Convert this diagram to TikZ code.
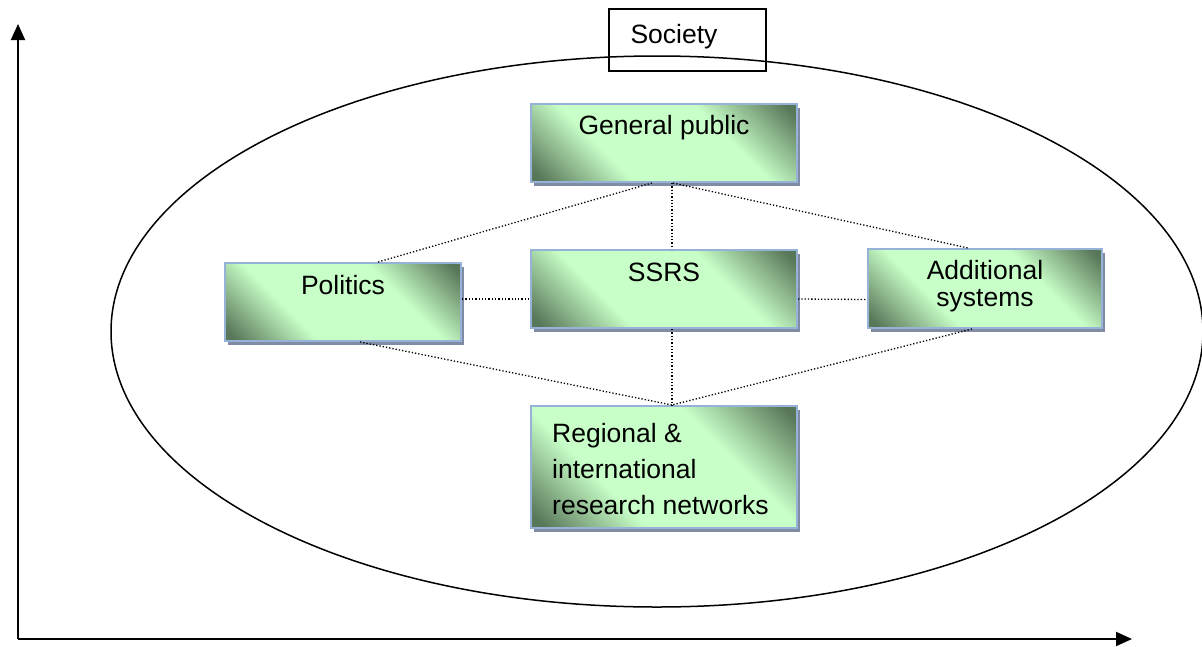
\documentclass[tikz,border=0pt]{standalone}
\usepackage{fontspec}
\setmainfont{Liberation Sans}
\usepackage{tikz}
\usetikzlibrary{arrows.meta}
\usetikzlibrary{shadows}

\definecolor{dkgreen}{RGB}{88,118,88}
\definecolor{ltgreen}{RGB}{200,255,200}
\definecolor{boxline}{RGB}{150,178,215}
\definecolor{shadowblue}{RGB}{128,140,165}

% light band across the box, dark in two corners
\pgfdeclareverticalshading{greenband}{100bp}{color(0bp)=(dkgreen); color(17bp)=(dkgreen);
  color(36bp)=(ltgreen); color(64bp)=(ltgreen); color(83bp)=(dkgreen); color(100bp)=(dkgreen)}

\tikzset{
  box/.style={draw=boxline, line width=2pt, shading=greenband, shading angle=-45, inner sep=0,
    drop shadow={shadow xshift=3pt, shadow yshift=-4pt, fill=shadowblue, opacity=1}},
  lbl/.style={inner sep=0, font=\fontsize{26.5}{27}\selectfont},
  link/.style={black, line width=1.3pt, dotted},
  axis/.style={black, line width=2pt, -{Triangle[length=16pt,width=14pt]}}
}

\begin{document}
\begin{tikzpicture}[x=1pt, y=-1pt]
\useasboundingbox (0,0) rectangle (1202,646);

% axes
\coordinate (o) at (18,639);
\coordinate (ytip) at (18,24);
\coordinate (xtip) at (1132,639);
\draw[axis] (o) -- (ytip);
\draw[axis] (o) -- (xtip);

% society
\draw[line width=1.5pt] (657,331.5) ellipse (546pt and 275.5pt);
\node[draw, line width=1.5pt, minimum width=157pt, minimum height=62pt] (soc) at (687.5,40) {};
\node[lbl] (soclbl) at (674,37) {Society};

% boxes
\node[box, minimum width=266pt, minimum height=78pt] (gp) at (664,143) {};
\node[box, minimum width=236pt, minimum height=78pt] (pol) at (343,302) {};
\node[box, minimum width=266pt, minimum height=78pt] (ssrs) at (664,289) {};
\node[box, minimum width=234pt, minimum height=79pt] (add) at (985,288.5) {};
\node[box, minimum width=266pt, minimum height=122pt] (reg) at (664,467) {};

\node[lbl] (gplbl) at (664,128) {General public};
\node[lbl] (pollbl) at (343,285) {Politics};
\node[lbl] (ssrslbl) at (664,272) {SSRS};
\node[lbl, align=center] (addlbl) at (985,286.5) {Additional\\systems};
\node[lbl, align=left, anchor=west, font=\fontsize{26.5}{36}\selectfont] (reglbl) at (552,469) {Regional \&\\international\\research networks};

% links
\draw[link] ([xshift=-12pt]gp.south) -- ([xshift=35pt]pol.north);
\draw[link] ([xshift=8pt]gp.south) -- ([xshift=8pt]ssrs.north);
\draw[link] ([xshift=9pt]gp.south) -- ([xshift=-17pt]add.north);
\draw[link] ([yshift=3pt]pol.east) -- ([yshift=-10pt]ssrs.west);
\draw[link] ([yshift=-10pt]ssrs.east) -- ([yshift=-11pt]add.west);
\draw[link] ([xshift=17pt]pol.south) -- ([xshift=8pt]reg.north);
\draw[link] ([xshift=8pt]ssrs.south) -- ([xshift=8pt]reg.north);
\draw[link] ([xshift=-13pt]add.south) -- ([xshift=8pt]reg.north);
\end{tikzpicture}
\end{document}
